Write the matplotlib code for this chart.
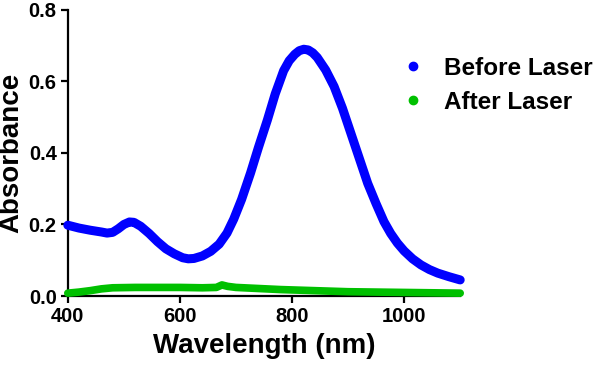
import numpy as np
import matplotlib
matplotlib.use('Agg')
import matplotlib.pyplot as plt
from matplotlib.lines import Line2D

plt.rcParams['font.family'] = ['Liberation Sans', 'DejaVu Sans']
plt.rcParams['font.weight'] = 'bold'

wl_before = [400, 420, 440, 460, 470, 480, 490, 500, 510, 518, 530, 545, 560, 575,
             590, 605, 615, 625, 640, 655, 670, 684, 696, 710, 726, 740, 756, 770,
             785, 795, 805, 813, 821, 829, 837, 845, 860, 875, 890, 905, 920, 935,
             950, 964, 976, 988, 1000, 1015, 1030, 1045, 1060, 1080, 1100]
abs_before = [0.198, 0.190, 0.184, 0.179, 0.176, 0.178, 0.188, 0.200, 0.207, 0.206,
              0.195, 0.175, 0.152, 0.132, 0.118, 0.107, 0.104, 0.105, 0.112, 0.125,
              0.145, 0.176, 0.215, 0.270, 0.344, 0.415, 0.492, 0.565, 0.630, 0.658,
              0.676, 0.686, 0.690, 0.688, 0.680, 0.667, 0.632, 0.586, 0.525, 0.455,
              0.385, 0.315, 0.258, 0.208, 0.175, 0.148, 0.126, 0.104, 0.087, 0.074,
              0.064, 0.054, 0.045]

wl_after = [400, 420, 440, 460, 480, 520, 560, 600, 640, 665, 675, 685, 700, 740,
            780, 820, 860, 900, 950, 1000, 1050, 1100]
abs_after = [0.008, 0.011, 0.015, 0.020, 0.023, 0.024, 0.024, 0.024, 0.023, 0.024,
             0.031, 0.027, 0.024, 0.021, 0.018, 0.016, 0.014, 0.012, 0.011, 0.010,
             0.009, 0.008]

x_ticks = [400, 600, 800, 1000]
y_ticks = [0.0, 0.2, 0.4, 0.6, 0.8]

fig = plt.figure(figsize=(6, 3.73), dpi=100)
ax = fig.add_axes([0.113, 0.2064, 0.654, 0.767])

blue = '#0000ff'
green = '#00c000'
ax.plot(wl_before, abs_before, color=blue, lw=6.5, solid_capstyle='round',
        solid_joinstyle='round', clip_on=False, zorder=4)
ax.plot(wl_after, abs_after, color=green, lw=5.5, solid_capstyle='round',
        solid_joinstyle='round', clip_on=False, zorder=5)

ax.set_xlim(400, 1100)
ax.set_ylim(0, 0.8)
ax.set_xticks(x_ticks)
ax.set_yticks(y_ticks)
ax.set_yticklabels([f'{v:.1f}' for v in y_ticks])

for side in ['top', 'right']:
    ax.spines[side].set_visible(False)
for side in ['left', 'bottom']:
    ax.spines[side].set_linewidth(1.6)
ax.tick_params(direction='out', length=5, width=1.6, labelsize=14.5, pad=3)
for lab in ax.get_xticklabels() + ax.get_yticklabels():
    lab.set_fontweight('bold')

ax.set_xlabel('Wavelength (nm)', fontsize=20, fontweight='bold', labelpad=5)
ax.set_ylabel('Absorbance', fontsize=20, fontweight='bold', labelpad=3)

handles = [Line2D([], [], color=blue, marker='o', ls='none', markersize=6),
           Line2D([], [], color=green, marker='o', ls='none', markersize=6)]
fig.legend(handles, ['Before Laser', 'After Laser'], loc='upper left',
           bbox_to_anchor=(0.632, 0.906), frameon=False,
           handlelength=1.0, handletextpad=0.75, labelspacing=0.45,
           prop={'weight': 'bold', 'size': 17.5})

fig.savefig('out.png', dpi=100)
